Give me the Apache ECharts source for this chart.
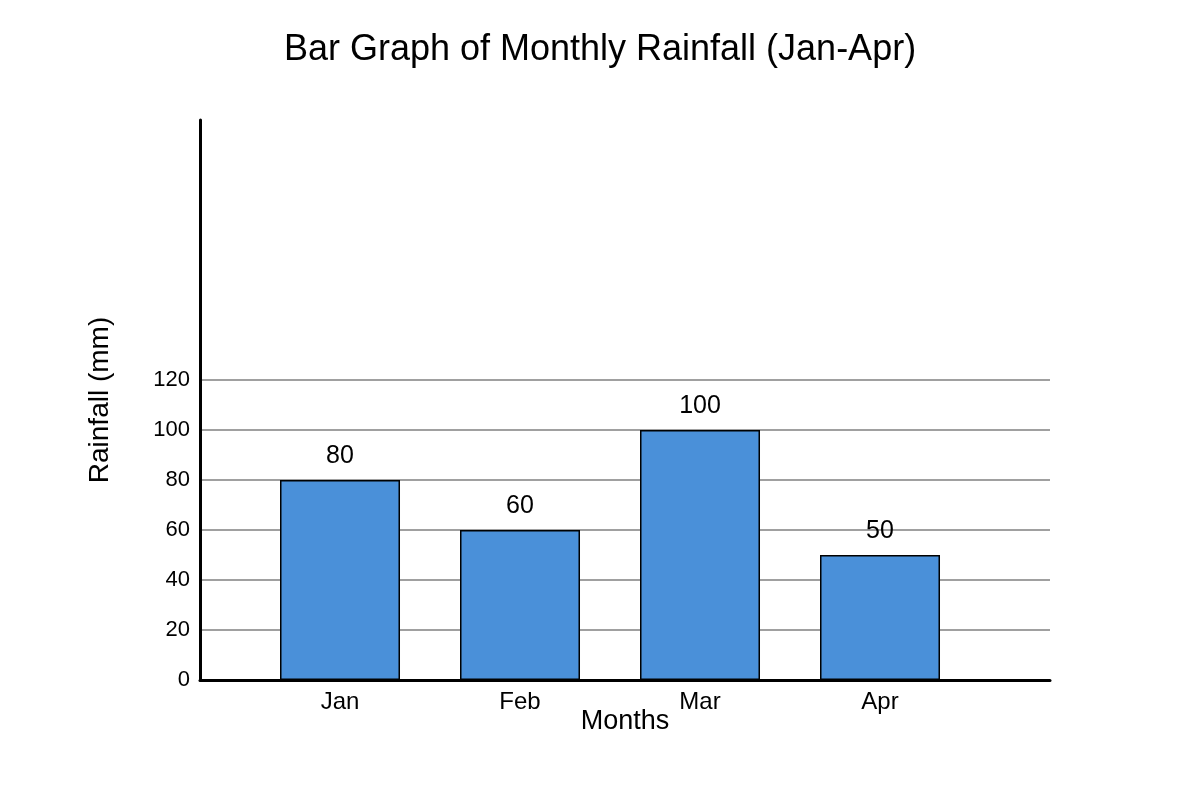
<!DOCTYPE html>
<html lang="en">
<head>
<meta charset="utf-8">
<script src="https://cdn.jsdelivr.net/npm/echarts@6/dist/echarts.min.js"></script>
<style>
  * { margin: 0; padding: 0; }
  body { background: #fff; }
</style>
</head>
<body>
<div id="main" style="width:1200px;height:800px;"></div>
<script>
// data
var months = ['Jan', 'Feb', 'Mar', 'Apr'];
var rainfall = [80, 60, 100, 50];
var yTicks = [0, 20, 40, 60, 80, 100, 120];

var chart = echarts.init(document.getElementById('main'));

// bars sit at 0..3 on a value axis so the spacing can match the picture
var barData = rainfall.map(function (v, i) { return [i, v]; });
var lastTick = yTicks[yTicks.length - 1];

// grid lines only up to the last labelled tick
var gridColors = [];
for (var v = 0; v <= 224; v += 20) {
    gridColors.push(v <= lastTick ? '#808080' : 'rgba(0,0,0,0)');
}
gridColors.push('rgba(0,0,0,0)');

var option = {
    backgroundColor: '#fff',
    textStyle: { fontFamily: 'Liberation Sans' },
    title: {
        text: 'Bar Graph of Monthly Rainfall (Jan-Apr)',
        left: 'center',
        top: 27,
        textStyle: { fontSize: 36, fontWeight: 'normal', color: '#000', fontFamily: 'Liberation Sans' }
    },
    grid: { left: 200, right: 150, top: 120, bottom: 120, containLabel: false },
    xAxis: {
        type: 'value',
        min: -0.7778,
        max: 3.9444,
        name: 'Months',
        nameLocation: 'middle',
        nameGap: 28,
        nameMoveOverlap: false,
        nameTextStyle: { fontSize: 27, color: '#000' },
        axisLine: { show: true, onZero: false, lineStyle: { color: '#000', width: 3 } },
        axisTick: { show: false },
        splitLine: { show: false },
        axisLabel: {
            customValues: [0, 1, 2, 3],
            formatter: function (val) { return months[Math.round(val)]; },
            fontSize: 24,
            color: '#000',
            margin: 10
        }
    },
    yAxis: {
        type: 'value',
        min: 0,
        max: 224,
        interval: 20,
        name: 'Rainfall (mm)',
        nameLocation: 'middle',
        nameGap: 86,
        nameTextStyle: { fontSize: 28, color: '#000' },
        axisLine: { show: true, onZero: false, lineStyle: { color: '#000', width: 3 } },
        axisTick: { show: false },
        axisLabel: {
            formatter: function (val) { return val <= lastTick ? String(val) : ''; },
            fontSize: 22,
            color: '#000',
            margin: 10
        },
        splitLine: { show: true, lineStyle: { color: gridColors, width: 1.5 } }
    },
    series: [{
        type: 'bar',
        data: barData,
        barWidth: 120,
        itemStyle: { color: '#4a90d9', borderColor: '#000', borderWidth: 1.5 },
        label: {
            show: true,
            position: 'top',
            distance: 11,
            fontSize: 25,
            color: '#000',
            formatter: function (p) { return p.value[1]; }
        }
    }]
};

chart.setOption(option);
</script>
</body>
</html>
